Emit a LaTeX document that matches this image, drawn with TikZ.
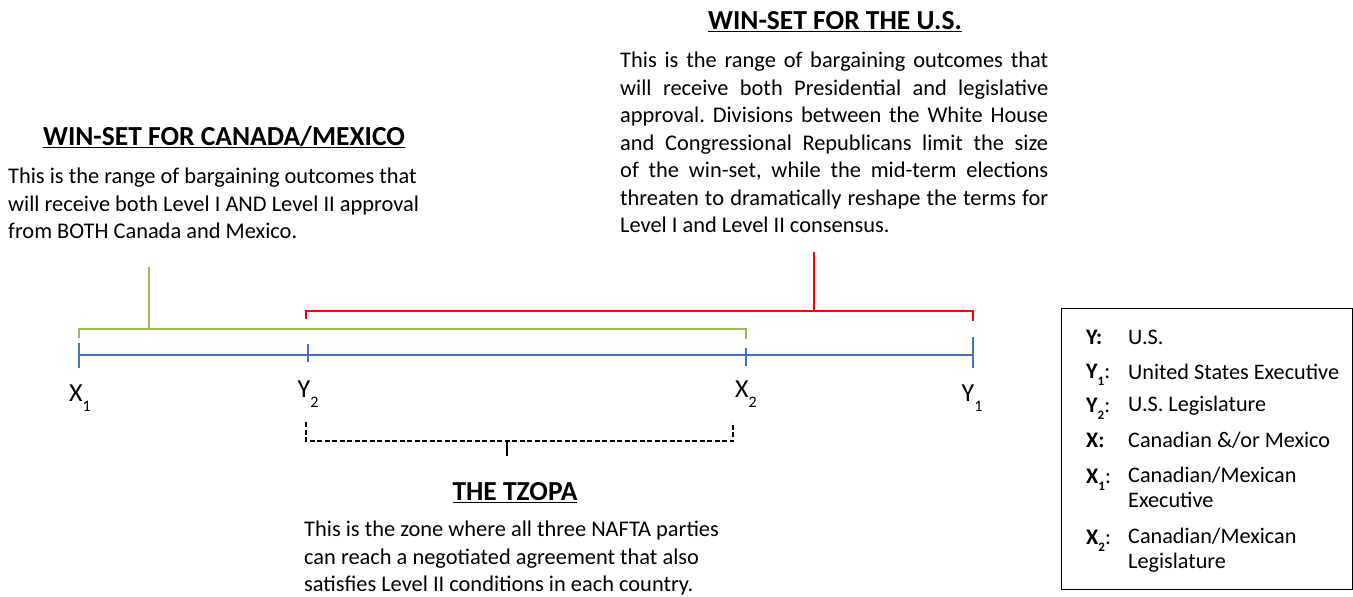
\documentclass[tikz,border=0pt]{standalone}
\usepackage{fontspec}
\setmainfont{Carlito}
\frenchspacing
\definecolor{lineblue}{RGB}{68,114,196}
\definecolor{setgreen}{RGB}{155,187,89}
\definecolor{setred}{RGB}{255,0,0}
\begin{document}
\begin{tikzpicture}[x=1pt,y=-1pt,
  body/.style={inner sep=0pt,font=\fontsize{22.4}{27.5}\selectfont},
  head/.style={inner sep=0pt,font=\fontsize{27.5}{30}\selectfont\bfseries},
  ptlabel/.style={inner sep=0pt,font=\fontsize{26}{30}\selectfont},
  leg/.style={inner sep=0pt,anchor=west,font=\fontsize{22.2}{25}\selectfont},
  axis/.style={lineblue,line width=2pt},
  gset/.style={setgreen,line width=2pt},
  rset/.style={setred,line width=2pt},
  zset/.style={black,line width=1.6pt,dash pattern=on 5pt off 2.5pt}]
\useasboundingbox (0,0) rectangle (1353,597);
% axis
\coordinate (x1) at (79,355);
\coordinate (y2) at (308,355);
\coordinate (x2) at (746,355);
\coordinate (y1) at (973,355);
\draw[axis] (x1) -- (y1);
\draw[axis] ([yshift=-13pt]x1) -- ([yshift=12pt]x1);
\draw[axis] ([yshift=-7pt]y2) -- ([yshift=11pt]y2);
\draw[axis] ([yshift=-11pt]x2) -- ([yshift=7pt]x2);
\draw[axis] ([yshift=-13pt]y1) -- ([yshift=18pt]y1);
% point labels
\node[ptlabel] (lx1) at (80,398) {X\raisebox{-0.4em}{\fontsize{16}{18}\selectfont 1}};
\node[ptlabel] (ly2) at (308,394) {Y\raisebox{-0.4em}{\fontsize{16}{18}\selectfont 2}};
\node[ptlabel] (lx2) at (746,394) {X\raisebox{-0.4em}{\fontsize{16}{18}\selectfont 2}};
\node[ptlabel] (ly1) at (972,398) {Y\raisebox{-0.4em}{\fontsize{16}{18}\selectfont 1}};
% green bracket (Canada/Mexico)
\coordinate (ga) at (79,338);
\coordinate (gb) at (746,339);
\coordinate (gstem) at (149,329);
\coordinate (gtop) at (149,267);
\draw[gset] (ga) |- (gstem) -| (gb);
\draw[gset] (gstem) -- (gtop);
% red bracket (U.S.)
\coordinate (ra) at (306,319);
\coordinate (rb) at (973,321);
\coordinate (rstem) at (814,311);
\coordinate (rtop) at (814,252);
\draw[rset] (ra) |- (rstem) -| (rb);
\draw[rset] (rstem) -- (rtop);
% dashed bracket (ZOPA)
\coordinate (za) at (306,422);
\coordinate (zb) at (733,422);
\coordinate (zstem) at (507,441);
\coordinate (zbot) at (507,456);
\draw[zset] (za) |- (zstem) -| (zb);
\draw[black,line width=1.6pt] (zstem) -- (zbot);
% headings
\node[head] (hcm) at (224,137) {\underline{WIN-SET FOR CANADA/MEXICO}};
\node[head] (hus) at (835,22) {\underline{WIN-SET FOR THE U.S.}};
\node[head] (hz) at (515,493) {\underline{THE TZOPA}};
% paragraphs
\node[body,anchor=north west,align=left] (pcm) at (8,168)
  {This is the range of bargaining outcomes that\\
   will receive both Level I AND Level II approval\\
   from BOTH Canada and Mexico.};
\node[body,anchor=north west,text width=428pt,align=justify] (pus) at (620,52)
  {\hyphenpenalty=10000 This is the range of bargaining outcomes that\linebreak
   will receive both Presidential and legislative\linebreak
   approval. Divisions between the White House\linebreak
   and Congressional Republicans limit the size\linebreak
   of the win-set, while the mid-term elections\linebreak
   threaten to dramatically reshape the terms for\linebreak
   Level I and Level II consensus.};
\node[body,anchor=north west,align=left] (pz) at (304,521)
  {This is the zone where all three NAFTA parties\\
   can reach a negotiated agreement that also\\
   satisfies Level II conditions in each country.};
% legend
\node[draw,line width=1pt,minimum width=291pt,minimum height=281pt,inner sep=0pt] (legbox) at (1206.5,448.5) {};
\node[leg] (k1) at (1086,337) {\textbf{Y:}};
\node[leg] (v1) at (1128,337) {U.S.};
\node[leg] (k2) at (1086,375) {\textbf{Y\raisebox{-0.3em}{\fontsize{13}{14}\selectfont 1}}:};
\node[leg] (v2) at (1128,372) {United States Executive};
\node[leg] (k3) at (1086,409) {\textbf{Y\raisebox{-0.3em}{\fontsize{13}{14}\selectfont 2}}:};
\node[leg] (v3) at (1128,406) {U.S. Legislature};
\node[leg] (k4) at (1086,440) {\textbf{X:}};
\node[leg] (v4) at (1128,440) {Canadian \&/or Mexico};
\node[leg] (k5) at (1086,480) {\textbf{X\raisebox{-0.3em}{\fontsize{13}{14}\selectfont 1}}:};
\node[leg,anchor=north west,align=left,font=\fontsize{22.2}{25}\selectfont] (v5) at (1128,467) {Canadian/Mexican\\Executive};
\node[leg] (k6) at (1086,541) {\textbf{X\raisebox{-0.3em}{\fontsize{13}{14}\selectfont 2}}:};
\node[leg,anchor=north west,align=left,font=\fontsize{22.2}{25}\selectfont] (v6) at (1128,528) {Canadian/Mexican\\Legislature};
\end{tikzpicture}
\end{document}
